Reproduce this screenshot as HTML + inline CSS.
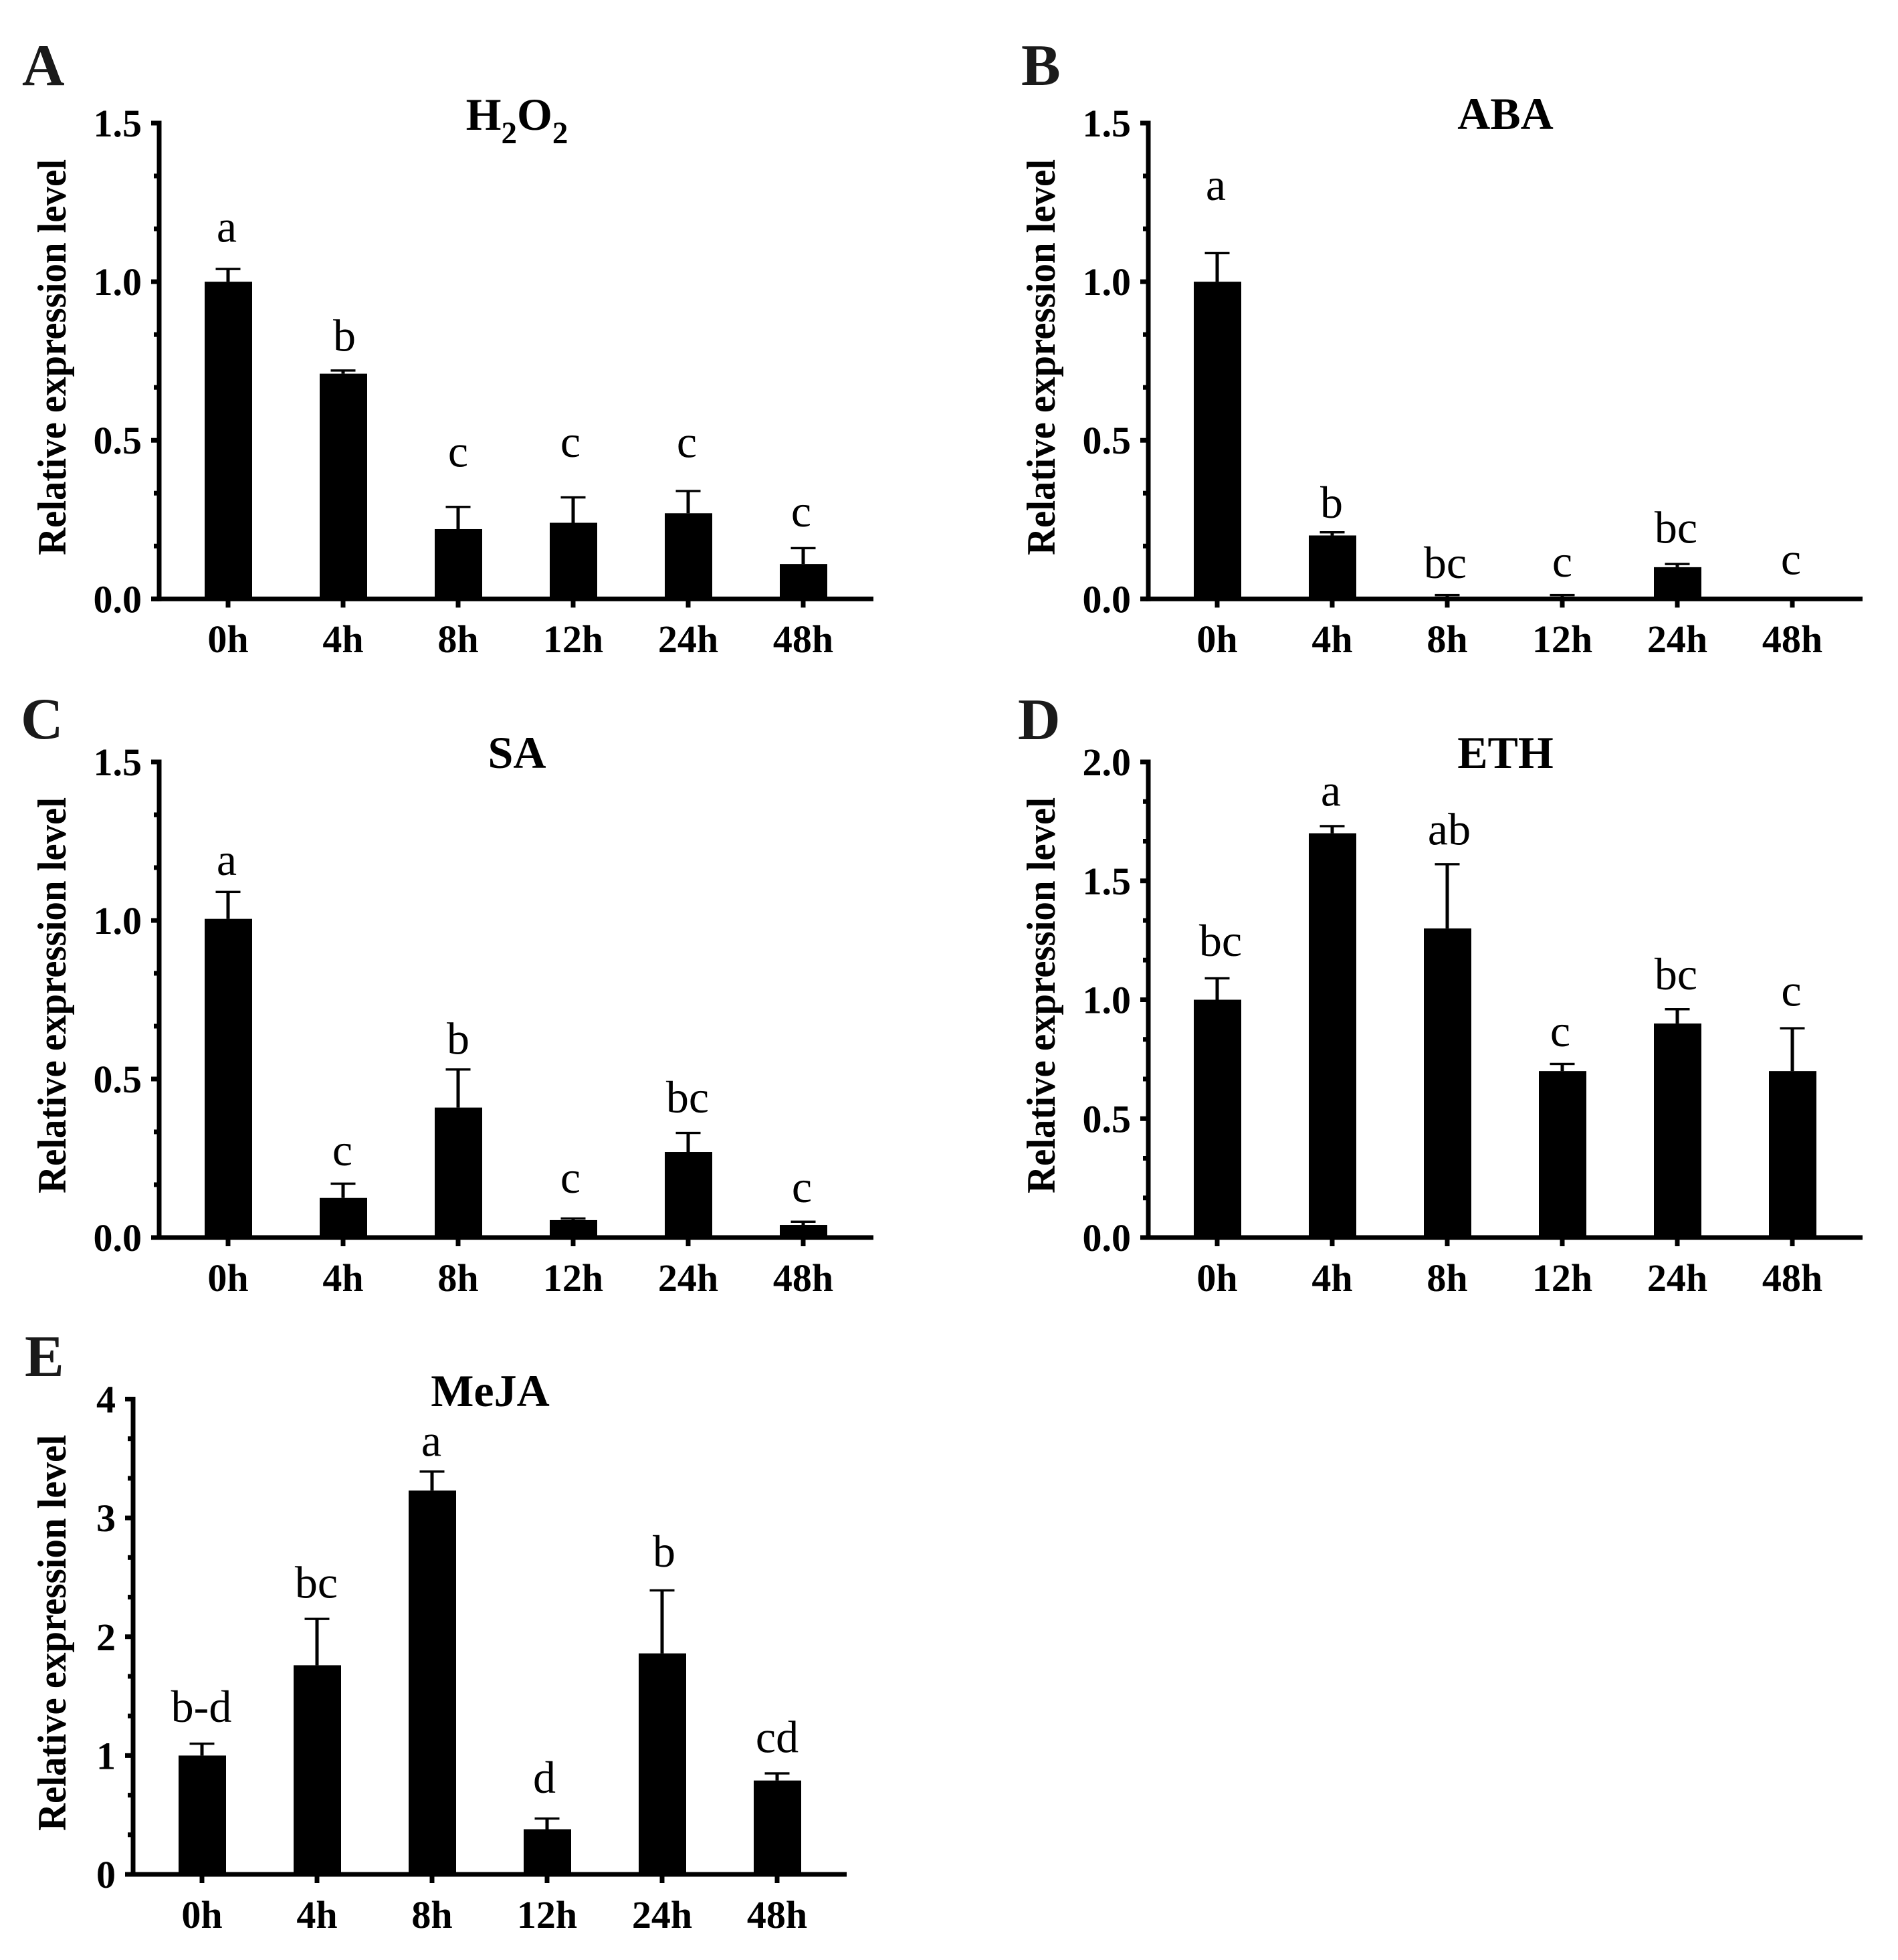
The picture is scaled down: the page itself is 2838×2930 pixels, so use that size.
<!DOCTYPE html>
<html lang="en">
<head>
<meta charset="utf-8">
<title>Relative expression level under hormone treatments</title>
<style>
  html, body { margin: 0; padding: 0; background: #fff; }
  svg { display: block; }
  text { font-family: "Liberation Serif", "Times New Roman", serif; fill: #000; }
  .bold { font-weight: bold; }
  .panel-letter { font-weight: bold; font-size: 88px; fill: #1a1a1a; }
  .panel-title { font-weight: bold; font-size: 68px; text-anchor: middle; }
  .y-title { font-weight: bold; font-size: 60px; text-anchor: middle; }
  .tick { font-weight: bold; font-size: 58px; }
  .sig { font-size: 68px; text-anchor: middle; }
</style>
</head>
<body>
<svg id="figure" xmlns="http://www.w3.org/2000/svg" width="2838" height="2930" viewBox="0 0 2838 2930">
  <rect x="0" y="0" width="2838" height="2930" fill="#fff"/>

  <text class="panel-letter" x="33" y="127">A</text>
  <text class="panel-letter" x="1527" y="127">B</text>
  <text class="panel-letter" x="31" y="1104">C</text>
  <text class="panel-letter" x="1522" y="1105">D</text>
  <text class="panel-letter" x="37" y="2057">E</text>

  <text class="panel-title" x="773" y="194">H<tspan dy="20" font-size="47">2</tspan><tspan dy="-20">O</tspan><tspan dy="20" font-size="47">2</tspan></text>
  <text class="panel-title" x="2251" y="193">ABA</text>
  <text class="panel-title" x="773" y="1148">SA</text>
  <text class="panel-title" x="2251" y="1148">ETH</text>
  <text class="panel-title" x="733" y="2102">MeJA</text>

  <text class="y-title" transform="translate(98,534) rotate(-90)" textLength="592" lengthAdjust="spacingAndGlyphs">Relative expression level</text>
  <text class="y-title" transform="translate(1577,534) rotate(-90)" textLength="592" lengthAdjust="spacingAndGlyphs">Relative expression level</text>
  <text class="y-title" transform="translate(98,1488) rotate(-90)" textLength="592" lengthAdjust="spacingAndGlyphs">Relative expression level</text>
  <text class="y-title" transform="translate(1577,1488) rotate(-90)" textLength="592" lengthAdjust="spacingAndGlyphs">Relative expression level</text>
  <text class="y-title" transform="translate(98,2441) rotate(-90)" textLength="592" lengthAdjust="spacingAndGlyphs">Relative expression level</text>
</svg>

<script>
// ---- Data ----
const categories = ['0h', '4h', '8h', '12h', '24h', '48h'];

const h2o2Means = [1.0, 0.71, 0.22, 0.24, 0.27, 0.11];
const h2o2Errors = [0.04, 0.01, 0.07, 0.08, 0.07, 0.05];
const h2o2Letters = ['a', 'b', 'c', 'c', 'c', 'c'];

const abaMeans = [1.0, 0.20, 0.005, 0.005, 0.10, 0.003];
const abaErrors = [0.09, 0.01, 0.007, 0.007, 0.01, 0.0];
const abaLetters = ['a', 'b', 'bc', 'c', 'bc', 'c'];

const saMeans = [1.005, 0.125, 0.41, 0.055, 0.27, 0.04];
const saErrors = [0.085, 0.045, 0.12, 0.005, 0.06, 0.01];
const saLetters = ['a', 'c', 'b', 'c', 'bc', 'c'];

const ethMeans = [1.0, 1.70, 1.30, 0.70, 0.90, 0.70];
const ethErrors = [0.09, 0.03, 0.27, 0.03, 0.06, 0.18];
const ethLetters = ['bc', 'a', 'ab', 'c', 'bc', 'c'];

const mejaMeans = [1.0, 1.76, 3.23, 0.38, 1.86, 0.79];
const mejaErrors = [0.10, 0.39, 0.16, 0.09, 0.53, 0.06];
const mejaLetters = ['b-d', 'bc', 'a', 'd', 'b', 'cd'];

const ticksToOnePointFive = [0, 0.5, 1.0, 1.5];
const labelsToOnePointFive = ['0.0', '0.5', '1.0', '1.5'];
const ticksToTwo = [0, 0.5, 1.0, 1.5, 2.0];
const labelsToTwo = ['0.0', '0.5', '1.0', '1.5', '2.0'];
const ticksToFour = [0, 1, 2, 3, 4];
const labelsToFour = ['0', '1', '2', '3', '4'];

// ---- Layout (pixels), kept apart from the data ----
const BAR_W = 71, STEP = 172, AXIS_W = 7, CAP_W = 37, CAP_T = 3.4, STEM_W = 5;
const panels = [
  { id: 'a', axisX: 238, baseY: 895.3, topY: 184, firstX: 341, rightX: 1306, labelY: 975,
    means: h2o2Means, errors: h2o2Errors, letters: h2o2Letters, ticks: ticksToOnePointFive, tickLabels: labelsToOnePointFive,
    lift: [40.5, 29.5, 60.5, 60.5, 50.5, 32.5], shift: [-2, 2, 0, -4, -2, -3] },
  { id: 'b', axisX: 1717, baseY: 895.3, topY: 184, firstX: 1820, rightX: 2785, labelY: 975,
    means: abaMeans, errors: abaErrors, letters: abaLetters, ticks: ticksToOnePointFive, tickLabels: labelsToOnePointFive,
    lift: [79.5, 21.5, 25.5, 27.5, 31.5, 35.5], shift: [-2, -1, -3, 0, -2, -2] },
  { id: 'c', axisX: 238, baseY: 1850, topY: 1139, firstX: 341, rightX: 1306, labelY: 1930,
    means: saMeans, errors: saErrors, letters: saLetters, ticks: ticksToOnePointFive, tickLabels: labelsToOnePointFive,
    lift: [25.5, 27.5, 23.5, 38.5, 30.5, 29.5], shift: [-2, -1, 0, -4, -1, -2] },
  { id: 'd', axisX: 1717, baseY: 1850, topY: 1139, firstX: 1820, rightX: 2785, labelY: 1930,
    means: ethMeans, errors: ethErrors, letters: ethLetters, ticks: ticksToTwo, tickLabels: labelsToTwo,
    lift: [33.5, 30.5, 29.5, 26.5, 29.5, 33.5], shift: [5, -2, 3, -3, -2, -1.5] },
  { id: 'e', axisX: 199, baseY: 2802, topY: 2091.5, firstX: 302, rightX: 1266, labelY: 2882,
    means: mejaMeans, errors: mejaErrors, letters: mejaLetters, ticks: ticksToFour, tickLabels: labelsToFour,
    lift: [32.5, 31.5, 23.5, 38.5, 35.5, 31.5], shift: [-1, -1, -1, -4, 3, 0] }
];

const svg = document.getElementById('figure');
const NS = 'http://www.w3.org/2000/svg';

function make(tag, attrs, text) {
  const node = document.createElementNS(NS, tag);
  for (const key in attrs) node.setAttribute(key, attrs[key]);
  if (text !== undefined) node.textContent = text;
  return node;
}
function block(parent, x, y, w, h) {
  const node = make('rect', { x: x, y: y, width: w, height: h, fill: '#000' });
  parent.appendChild(node);
  return node;
}

panels.forEach(function (p) {
  const maxValue = p.ticks[p.ticks.length - 1];
  const yScale = function (v) { return p.baseY - (v / maxValue) * (p.baseY - p.topY); };
  const xScale = function (i) { return p.firstX + i * STEP; };

  const group = make('g', {});
  
  
  svg.appendChild(group);

  // Bars with error bars and significance letters
  p.means.forEach(function (mean, i) {
    const cx = xScale(i);
    const upper = yScale(mean + p.errors[i]);
    const barTop = yScale(mean);

    const stem = block(group, cx - STEM_W / 2, upper, STEM_W, Math.max(0, barTop - upper));
    
    

    const cap = block(group, cx - CAP_W / 2, upper - CAP_T / 2, CAP_W, CAP_T);
    
    

    const bar = block(group, cx - BAR_W / 2 + 0.5, barTop, BAR_W, p.baseY - barTop);
    
    

    const sig = make('text', { class: 'sig', x: cx + p.shift[i], y: upper - p.lift[i] }, p.letters[i]);
    
    
    group.appendChild(sig);

    const tick = block(group, cx - AXIS_W / 2, p.baseY, AXIS_W, 13);
    
    

    const label = make('text', { class: 'tick', x: cx, y: p.labelY, 'text-anchor': 'middle' }, categories[i]);
    
    
    group.appendChild(label);
  });

  // Axis lines
  const yAxis = block(group, p.axisX - AXIS_W / 2, p.topY - AXIS_W / 2, AXIS_W, p.baseY - p.topY + AXIS_W);
  
  

  const xAxis = block(group, p.axisX - 12, p.baseY - AXIS_W / 2, p.rightX - p.axisX + 12, AXIS_W);
  
  

  // Y ticks: major plus two minor between each pair of majors
  p.ticks.forEach(function (value, i) {
    const y = yScale(value);
    const major = block(group, p.axisX - 12, y - AXIS_W / 2, 12, AXIS_W);
    
    

    const label = make('text', { class: 'tick', x: p.axisX - 26, y: y + 20, 'text-anchor': 'end' }, p.tickLabels[i]);
    
    
    group.appendChild(label);

    if (i < p.ticks.length - 1) {
      [1, 2].forEach(function (k) {
        const minorValue = value + (p.ticks[i + 1] - value) * k / 3;
        const minor = block(group, p.axisX - 8, yScale(minorValue) - AXIS_W / 2, 8, AXIS_W);
        
        
      });
    }
  });
});
</script>
</body>
</html>
